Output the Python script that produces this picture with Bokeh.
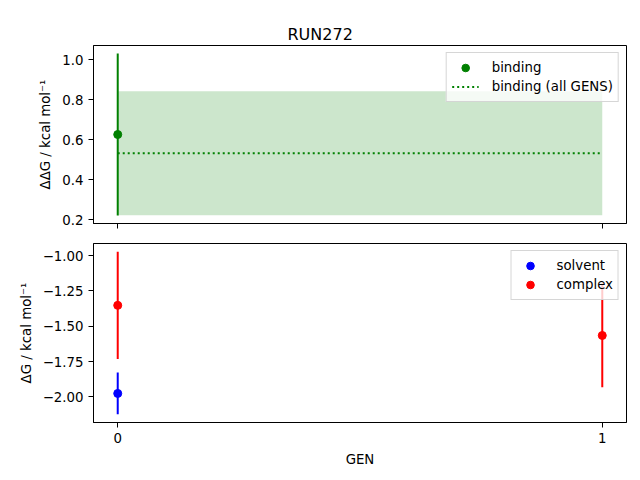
from bokeh.embed import file_html
from bokeh.resources import INLINE
from bokeh.plotting import figure
from bokeh.layouts import column
from bokeh.models import Range1d, FixedTicker, Legend, Title

# data
gens = [0, 1]
gen_labels = ["0", "1"]

binding_gen = [0]
binding_dg = [0.627]
binding_err = [0.405]
binding_all = 0.533
binding_all_err = 0.31

solvent_gen = [0]
solvent_dg = [-1.975]
solvent_err = [0.148]

complex_gen = [0, 1]
complex_dg = [-1.352, -1.565]
complex_err = [0.38, 0.367]

top_ticks = [0.2, 0.4, 0.6, 0.8, 1.0]
top_labels = ["0.2", "0.4", "0.6", "0.8", "1.0"]
bottom_ticks = [-2.0, -1.75, -1.5, -1.25, -1.0]
bottom_labels = ["\u22122.00", "\u22121.75", "\u22121.50", "\u22121.25", "\u22121.00"]

FONT = "DejaVu Sans"
GREEN = "#008000"


def padded(lo, hi, frac=0.05):
    d = (hi - lo) * frac
    return Range1d(lo - d, hi + d)


def style(p, yticks, ylabels, ylabel):
    p.xgrid.grid_line_color = None
    p.ygrid.grid_line_color = None
    p.outline_line_color = "black"
    p.outline_line_alpha = 1
    p.outline_line_width = 1
    p.background_fill_color = "white"
    p.border_fill_color = "white"
    for ax in (p.xaxis[0], p.yaxis[0]):
        ax.axis_line_color = "black"
        ax.major_tick_in = 0
        ax.major_tick_out = 5
        ax.minor_tick_line_color = None
        ax.major_label_text_font = FONT
        ax.major_label_text_font_size = "10pt"
        ax.major_label_text_color = "black"
        ax.axis_label_text_font = FONT
        ax.axis_label_text_font_size = "10pt"
        ax.axis_label_text_font_style = "normal"
        ax.axis_label_text_color = "black"
        ax.major_label_standoff = 5
        ax.axis_label_standoff = 6
    p.xaxis.ticker = FixedTicker(ticks=gens)
    p.xaxis.major_label_overrides = dict(zip(gens, gen_labels))
    p.yaxis.ticker = FixedTicker(ticks=yticks)
    p.yaxis.major_label_overrides = dict(zip(yticks, ylabels))
    p.yaxis.axis_label = ylabel


def style_legend(leg):
    leg.location = "top_right"
    leg.margin = 7
    leg.padding = 5
    leg.spacing = 0
    leg.glyph_width = 27
    leg.glyph_height = 19
    leg.label_height = 19
    leg.label_standoff = 13
    leg.label_text_font = FONT
    leg.label_text_font_size = "10pt"
    leg.label_text_color = "black"
    leg.border_line_color = "#cccccc"
    leg.border_line_alpha = 0.8
    leg.background_fill_alpha = 0.8


# top panel: binding free energy
top_lo = min(min(v - e for v, e in zip(binding_dg, binding_err)), binding_all - binding_all_err)
top_hi = max(max(v + e for v, e in zip(binding_dg, binding_err)), binding_all + binding_all_err)
xr = Range1d(-0.05, 1.05)

p1 = figure(width=640, height=238, output_backend="svg", toolbar_location=None,
            x_range=xr, y_range=padded(top_lo, top_hi),
            min_border_left=93, min_border_right=14, min_border_top=45, min_border_bottom=15)

# real title first, then an invisible spacer title that sits between it and the frame
p1.add_layout(Title(text="RUN272", text_color="black", text_font=FONT,
                    text_font_size="12pt", text_font_style="normal",
                    align="left", offset=194, standoff=4), "above")
p1.add_layout(Title(text="RUN272", text_color=None, text_font=FONT,
                    text_font_size="10pt", standoff=4), "above")

p1.varea(x=gens, y1=[binding_all - binding_all_err] * len(gens),
         y2=[binding_all + binding_all_err] * len(gens), fill_color=GREEN, fill_alpha=0.2)
p1.segment(x0=binding_gen, x1=binding_gen,
           y0=[v - e for v, e in zip(binding_dg, binding_err)],
           y1=[v + e for v, e in zip(binding_dg, binding_err)],
           line_color=GREEN, line_width=2)
r_bind = p1.scatter(binding_gen, binding_dg, size=8, color=GREEN)
r_all = p1.line(gens, [binding_all] * len(gens), line_color=GREEN, line_width=2, line_dash="2 3")
style(p1, top_ticks, top_labels, "\u0394\u0394G / kcal mol\u207b\u00b9")
# shared x axis: ticks only, no labels
p1.xaxis.major_label_text_color = None
p1.xaxis.major_label_text_font_size = "1pt"
p1.xaxis.major_label_standoff = 0
leg1 = Legend(items=[("binding", [r_bind]), ("binding (all GENS)", [r_all])])
style_legend(leg1)
p1.add_layout(leg1, "center")

# bottom panel: solvent and complex legs
lows = [v - e for v, e in zip(solvent_dg + complex_dg, solvent_err + complex_err)]
highs = [v + e for v, e in zip(solvent_dg + complex_dg, solvent_err + complex_err)]

p2 = figure(width=640, height=242, output_backend="svg", toolbar_location=None,
            x_range=xr, y_range=padded(min(lows), max(highs)),
            min_border_left=93, min_border_right=14, min_border_top=5, min_border_bottom=58)
p2.segment(x0=solvent_gen, x1=solvent_gen,
           y0=[v - e for v, e in zip(solvent_dg, solvent_err)],
           y1=[v + e for v, e in zip(solvent_dg, solvent_err)],
           line_color="blue", line_width=2)
p2.segment(x0=complex_gen, x1=complex_gen,
           y0=[v - e for v, e in zip(complex_dg, complex_err)],
           y1=[v + e for v, e in zip(complex_dg, complex_err)],
           line_color="red", line_width=2)
r_sol = p2.scatter(solvent_gen, solvent_dg, size=8, color="blue")
r_com = p2.scatter(complex_gen, complex_dg, size=8, color="red")
style(p2, bottom_ticks, bottom_labels, "\u0394G / kcal mol\u207b\u00b9")
p2.xaxis.axis_label = "GEN"
leg2 = Legend(items=[("solvent", [r_sol]), ("complex", [r_com])])
style_legend(leg2)
p2.add_layout(leg2, "center")

layout = column(p1, p2, spacing=0)
open("out.html", "w").write(file_html(layout, INLINE))
